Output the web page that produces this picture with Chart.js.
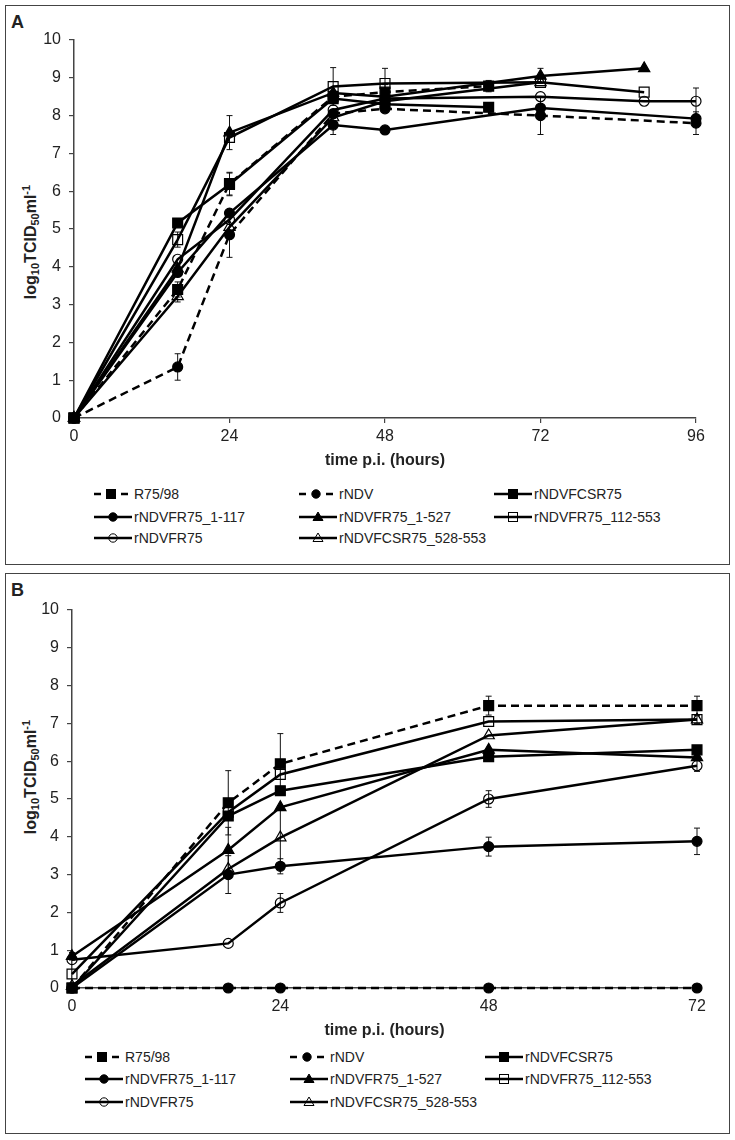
<!DOCTYPE html>
<html>
<head>
<meta charset="utf-8">
<script src="https://cdn.jsdelivr.net/npm/chart.js@4.4.1/dist/chart.umd.min.js"></script>
<style>
  body { margin: 0; background: #fff; font-family: "Liberation Sans", Arial, sans-serif; color: #222; }
  #page { position: relative; width: 735px; height: 1140px; overflow: hidden; }
  .frame { position: absolute; left: 5px; width: 725px; border: 1.5px solid #444; box-sizing: border-box; }
  .letter { position: absolute; font-weight: bold; font-size: 18px; }
  .ytitle { position: absolute; transform: translate(-50%, -50%) rotate(-90deg); white-space: nowrap;
            font-weight: bold; font-size: 16px; }
  .ytitle sub, .ytitle sup { font-size: 11px; }
  .ytitle sub { vertical-align: -3px; }
  .ytitle sup { vertical-align: 6px; }
  canvas { position: absolute; left: 0; }
  .item { position: absolute; height: 16px; display: flex; align-items: center; font-size: 14px; white-space: nowrap; }
  .item svg { margin-right: 2px; }
</style>
</head>
<body>
<div id="page">
  <div class="frame" style="top:5px;height:560px;"></div>
  <div class="frame" style="top:573px;height:561px;"></div>
  <div class="letter" style="left:11px;top:12px;">A</div>
  <div class="letter" style="left:11px;top:580px;">B</div>
  <div class="ytitle" style="left:30px;top:242px;">log<sub>10</sub>TCID<sub>50</sub>ml<sup>-1</sup></div>
  <div class="ytitle" style="left:30px;top:777px;">log<sub>10</sub>TCID<sub>50</sub>ml<sup>-1</sup></div>
  <canvas id="chartA" width="735" height="474" style="top:0px;"></canvas>
  <canvas id="chartB" width="735" height="474" style="top:570px;"></canvas>
  <div id="legendA"></div>
  <div id="legendB"></div>
</div>
<script>
// virus names, same order in both panels
const seriesNames = ['R75/98', 'rNDV', 'rNDVFCSR75', 'rNDVFR75_1-117', 'rNDVFR75_1-527',
  'rNDVFR75_112-553', 'rNDVFR75', 'rNDVFCSR75_528-553'];

// panel A: sampling times differ between viruses
const hoursA = [
  [0, 16, 24, 40, 48, 64],
  [0, 16, 24, 40, 48, 72, 96],
  [0, 16, 24, 40, 48, 64],
  [0, 16, 24, 40, 48, 72, 96],
  [0, 16, 24, 40, 48, 72, 88],
  [0, 16, 24, 40, 48, 72, 88],
  [0, 16, 24, 40, 48, 72, 88, 96],
  [0, 16, 24, 40, 48, 72]
];
const titerA = [
  [0, 3.4, 6.2, 8.5, 8.62, 8.78],
  [0, 1.35, 4.85, 8.05, 8.18, 8.0, 7.8],
  [0, 5.16, 6.18, 8.45, 8.3, 8.22],
  [0, 3.85, 5.42, 7.75, 7.62, 8.2, 7.92],
  [0, 3.95, 7.55, 8.6, 8.5, 9.05, 9.25],
  [0, 4.72, 7.42, 8.77, 8.85, 8.88, 8.62],
  [0, 4.2, 5.25, 8.15, 8.45, 8.5, 8.38, 8.38],
  [0, 3.22, 5.05, 7.95, 8.38, 8.88]
];
const errA = [
  [0, 0.2, 0.3, 0, 0.2, 0.15],
  [0, 0.35, 0.6, 0, 0, 0.5, 0.3],
  [0, 0, 0.3, 0, 0, 0],
  [0, 0, 0, 0.25, 0, 0, 0],
  [0, 0, 0.45, 0, 0, 0.2, 0],
  [0, 0.2, 0, 0.5, 0.4, 0, 0],
  [0, 0, 0, 0, 0, 0, 0, 0.35],
  [0, 0.15, 0, 0, 0, 0]
];

// panel B: common sampling times
const hoursB = [0, 18, 24, 48, 72];
const titerB = [
  [0, 4.9, 5.93, 7.47, 7.47],
  [0, 0, 0, 0, 0],
  [0, 4.55, 5.22, 6.12, 6.3],
  [0, 3.0, 3.22, 3.74, 3.88],
  [0.84, 3.65, 4.78, 6.3, 6.1],
  [0.37, 4.65, 5.65, 7.05, 7.1],
  [0.75, 1.18, 2.25, 5.0, 5.88],
  [0.05, 3.15, 3.98, 6.68, 7.1]
];
const errB = [
  [0, 0.85, 0.8, 0.25, 0.25],
  [0, 0, 0, 0, 0],
  [0, 0, 0, 0, 0],
  [0, 0.5, 0.2, 0.25, 0.35],
  [0.1, 0.6, 0, 0, 0],
  [0, 0, 0, 0, 0.1],
  [0, 0, 0.25, 0.22, 0.15],
  [0, 0, 0.75, 0, 0]
];

// styles
const dashed = [true, true, false, false, false, false, false, false];
const markerShape = ['rect', 'circle', 'rect', 'circle', 'triangle', 'rect', 'circle', 'triangle'];
const markerFilled = [true, true, true, true, true, false, false, false];
const markerSize = { rect: 7, circle: 5, triangle: 6.5 };

Chart.defaults.font.family = '"Liberation Sans", Arial, sans-serif';

// vertical error bars drawn from the y scale
const errorBarPlugin = {
  id: 'errorBars',
  beforeDatasetsDraw(chart) {
    const ctx = chart.ctx;
    const ys = chart.scales.y;
    chart.data.datasets.forEach((ds, i) => {
      const meta = chart.getDatasetMeta(i);
      ds.errors.forEach((e, j) => {
        if (!e) return;
        const pt = meta.data[j];
        const v = ds.data[j].y;
        const top = ys.getPixelForValue(v + e);
        const bot = ys.getPixelForValue(Math.max(0, v - e));
        ctx.save();
        ctx.strokeStyle = '#111';
        ctx.lineWidth = 1;
        ctx.beginPath();
        ctx.moveTo(pt.x, top); ctx.lineTo(pt.x, bot);
        ctx.moveTo(pt.x - 3, top); ctx.lineTo(pt.x + 3, top);
        ctx.moveTo(pt.x - 3, bot); ctx.lineTo(pt.x + 3, bot);
        ctx.stroke();
        ctx.restore();
      });
    });
  }
};

function makeChart(id, hours, titers, errs, xMax, axisWidth, rightPad) {
  const datasets = seriesNames.map((name, i) => {
    const h = Array.isArray(hours[0]) ? hours[i] : hours;
    return {
      label: name,
      data: h.map((t, j) => ({ x: t, y: titers[i][j] })),
      errors: errs[i],
      borderColor: '#000',
      borderWidth: 2.5,
      borderDash: dashed[i] ? [8, 5] : [],
      pointStyle: markerShape[i],
      pointRadius: markerSize[markerShape[i]],
      pointBackgroundColor: markerFilled[i] ? '#000' : 'rgba(0,0,0,0)',
      pointBorderColor: '#000',
      pointBorderWidth: 1.2,
      fill: false,
      tension: 0,
      clip: false
    };
  });
  const axisGrid = { drawOnChartArea: false, drawTicks: true, tickLength: 5, color: '#444', lineWidth: 1.2 };
  return new Chart(document.getElementById(id), {
    type: 'line',
    data: { datasets },
    options: {
      responsive: false,
      animation: false,
      devicePixelRatio: 1,
      layout: { padding: { left: 0, right: rightPad, top: 40, bottom: 0 } },
      plugins: { legend: { display: false }, tooltip: { enabled: false } },
      scales: {
        x: {
          type: 'linear', min: 0, max: xMax,
          ticks: { stepSize: 24, color: '#222', font: { size: 16 }, padding: 4 },
          grid: axisGrid,
          border: { color: '#444', width: 1.5 },
          title: { display: true, text: 'time p.i. (hours)', color: '#222',
                   font: { size: 16, weight: 'bold' }, padding: { top: 4, bottom: 4 } },
          afterFit: s => { s.height = 56; }
        },
        y: {
          min: 0, max: 10,
          ticks: { stepSize: 1, color: '#222', font: { size: 16 }, padding: 8 },
          grid: axisGrid,
          border: { color: '#444', width: 1.5 },
          afterFit: s => { s.width = axisWidth; }
        }
      }
    },
    plugins: [errorBarPlugin]
  });
}

function legendSymbol(i) {
  const ns = 'http://www.w3.org/2000/svg';
  const svg = document.createElementNS(ns, 'svg');
  svg.setAttribute('width', 38);
  svg.setAttribute('height', 14);
  const add = (tag, attrs) => {
    const el = document.createElementNS(ns, tag);
    Object.entries(attrs).forEach(([k, v]) => el.setAttribute(k, v));
    svg.appendChild(el);
  };
  const stroke = { stroke: '#000', 'stroke-width': 2.5 };
  let cx = 19;
  if (dashed[i]) {
    cx = 17;
    add('line', { x1: 0, y1: 7, x2: 7, y2: 7, ...stroke });
    add('line', { x1: 27, y1: 7, x2: 34, y2: 7, ...stroke });
  } else {
    add('line', { x1: 0, y1: 7, x2: 38, y2: 7, ...stroke });
  }
  const fill = markerFilled[i] ? '#000' : 'none';
  const m = { fill, stroke: '#000', 'stroke-width': 1 };
  if (markerShape[i] === 'rect') add('rect', { x: cx - 4.5, y: 2.5, width: 9, height: 9, ...m });
  if (markerShape[i] === 'circle') add('circle', { cx, cy: 7, r: 4.2, ...m });
  if (markerShape[i] === 'triangle') add('polygon', { points: `${cx},2 ${cx + 5},10.5 ${cx - 5},10.5`, ...m });
  return svg;
}

function makeLegend(id, cols, rows) {
  const box = document.getElementById(id);
  seriesNames.forEach((name, i) => {
    const item = document.createElement('div');
    item.className = 'item';
    item.style.left = cols[i % 3] + 'px';
    item.style.top = (rows[Math.floor(i / 3)] - 8) + 'px';
    item.appendChild(legendSymbol(i));
    const txt = document.createElement('span');
    txt.textContent = name;
    item.appendChild(txt);
    box.appendChild(item);
  });
}

makeChart('chartA', hoursA, titerA, errA, 96, 74, 39);
makeChart('chartB', hoursB, titerB, errB, 72, 72, 38);
makeLegend('legendA', [94, 299, 494], [494, 517, 538]);
makeLegend('legendB', [85, 290, 485], [1057, 1079, 1102]);
</script>
</body>
</html>
